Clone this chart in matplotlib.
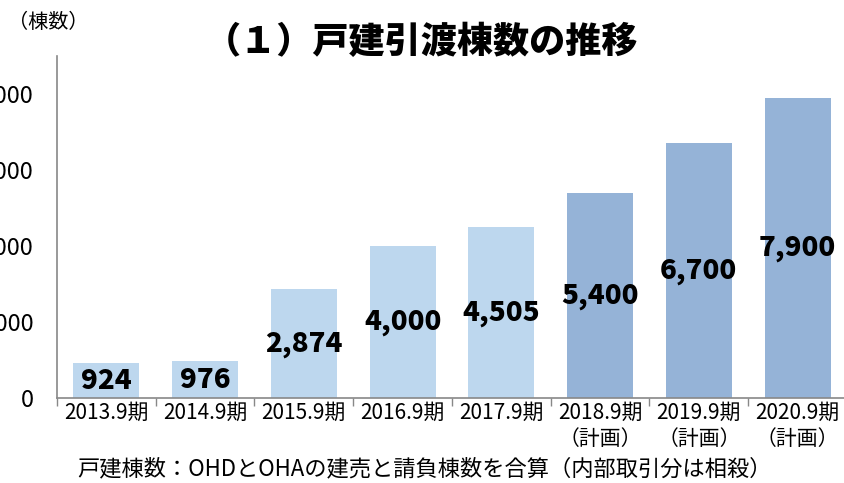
import matplotlib
matplotlib.use("Agg")
import matplotlib.pyplot as plt

plt.rcParams['font.family'] = ['Noto Sans CJK JP', 'DejaVu Sans']

periods = ['2013.9期', '2014.9期', '2015.9期', '2016.9期', '2017.9期',
           '2018.9期', '2019.9期', '2020.9期']
plan_flags = [False, False, False, False, False, True, True, True]
houses = [924, 976, 2874, 4000, 4505, 5400, 6700, 7900]
y_ticks = [0, 2000, 4000, 6000, 8000]

light = '#BDD7EE'
dark = '#95B3D7'

fig = plt.figure(figsize=(8.44, 4.83), dpi=100)
ax = fig.add_axes([57 / 844, 1 - 398 / 483, 790 / 844, 342 / 483])

x = list(range(len(houses)))
colors = [dark if p else light for p in plan_flags]
ax.bar(x, houses, width=0.67, color=colors, zorder=2)

for xi, v in zip(x, houses):
    ax.text(xi, v / 2, f'{v:,}', ha='center', va='center',
            fontsize=20, fontweight='heavy', color='black', zorder=3)

ax.set_xlim(-0.5, len(houses) - 0.5)
ax.set_ylim(0, 9000)

ax.set_yticks(y_ticks)
ax.set_yticklabels([f'{t:,}' for t in y_ticks], fontsize=17)
ax.tick_params(axis='y', length=0, pad=17)

labels = [p + ('\n（計画）' if f else '') for p, f in zip(periods, plan_flags)]
ax.set_xticks(x)
ax.set_xticklabels(labels, fontsize=15, linespacing=1.25, va='top')
ax.set_xticks([i - 0.5 for i in range(len(houses) + 1)], minor=True)
ax.tick_params(axis='x', which='major', length=0, pad=3)
ax.tick_params(axis='x', which='minor', length=6, color='#888888', width=1)

for s in ['top', 'right']:
    ax.spines[s].set_visible(False)
for s in ['left', 'bottom']:
    ax.spines[s].set_color('#888888')
    ax.spines[s].set_linewidth(1.2)

fig.text(422 / 844, 1 - 42 / 483, '（１）戸建引渡棟数の推移', ha='center', va='center',
         fontsize=26, fontweight='heavy')
fig.text(8 / 844, 1 - 22 / 483, '（棟数）', ha='left', va='center', fontsize=14.5)
fig.text(424 / 844, 1 - 469 / 483, '戸建棟数：OHDとOHAの建売と請負棟数を合算（内部取引分は相殺）',
         ha='center', va='center', fontsize=16)

fig.savefig('out.png', dpi=100)
